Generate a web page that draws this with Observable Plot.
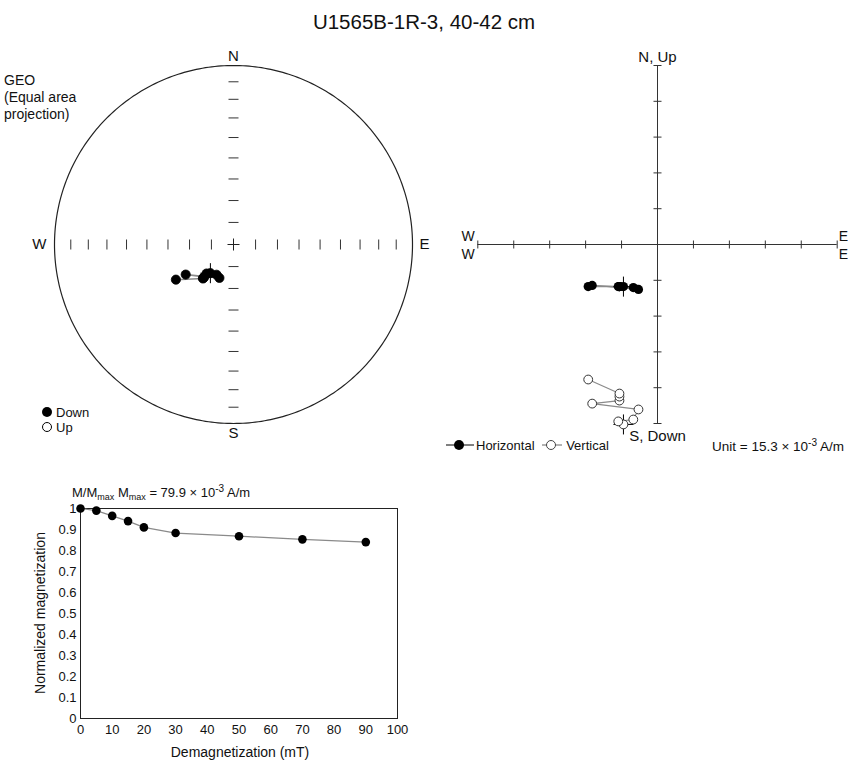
<!DOCTYPE html>
<html>
<head>
<meta charset="utf-8">
<script src="https://cdn.jsdelivr.net/npm/d3@7"></script>
<script src="https://cdn.jsdelivr.net/npm/@observablehq/plot@0.6"></script>
<style>
  body { margin: 0; background: #fff; font-family: "Liberation Sans", Arial, Helvetica, sans-serif; color: #111; }
  #chart { position: relative; width: 848px; height: 762px; overflow: hidden; }
  #chart svg.panel { position: absolute; overflow: visible; }
  #chart svg.decay-panel g[aria-label$="tick label"] { font-size: 13px; }
  .t { position: absolute; white-space: nowrap; line-height: 1; }
  .sub { font-size: 9px; position: relative; top: 3px; }
  .sup { font-size: 10px; position: relative; top: -5px; }
</style>
</head>
<body>
<div id="chart">
  <div class="t" style="left:0;width:848px;text-align:center;top:12px;font-size:20.5px;">U1565B-1R-3, 40-42 cm</div>
  <div class="t" style="left:4px;top:72px;font-size:14px;line-height:17px;">GEO<br>(Equal area<br>projection)</div>
  <div class="t" style="left:41px;top:405px;font-size:13px;line-height:15px;">
    <svg width="12" height="12" style="vertical-align:-1px;margin-right:3px"><circle cx="6" cy="6" r="5" fill="#000"/></svg>Down<br>
    <svg width="12" height="12" style="vertical-align:-1px;margin-right:3px"><circle cx="6" cy="6" r="4.5" fill="#fff" stroke="#000"/></svg>Up
  </div>
  <div class="t" style="left:446px;top:439px;font-size:13px;">
    <svg width="30" height="12" style="vertical-align:-1px"><line x1="0" y1="6" x2="28" y2="6" stroke="#000"/><circle cx="13" cy="6" r="5" fill="#000"/></svg>Horizontal
    <svg width="24" height="12" style="vertical-align:-1px;margin-left:4px"><line x1="0" y1="6" x2="20" y2="6" stroke="#666"/><circle cx="9" cy="6" r="4.5" fill="#fff" stroke="#444"/></svg>Vertical
  </div>
  <div class="t" style="left:712px;top:440px;font-size:13.5px;">Unit = 15.3 × 10<span class="sup">-3</span> A/m</div>
  <div class="t" style="left:72px;top:486px;font-size:13px;">M/M<span class="sub">max</span> M<span class="sub">max</span> = 79.9 × 10<span class="sup">-3</span> A/m</div>
  <div class="t" style="left:90px;width:300px;text-align:center;top:745px;font-size:14px;">Demagnetization (mT)</div>
  <div class="t" style="left:-45px;width:170px;text-align:center;top:606px;font-size:14px;transform:rotate(-90deg);">Normalized magnetization</div>
</div>
<script>
// Demagnetization steps (mT) and remanence components (10^-3 A/m), geographic coordinates
const stepsMT    = [0, 5, 10, 15, 20, 30, 50, 70, 90];
const east       = [-14.5, -16.7, -10.3, -8.1, -27.8, -16.2, -16.2, -16.2, -29.5];
const north      = [-18.0, -18.0, -18.4, -19.2, -17.5, -18.0, -18.0, -18.0, -18.0];
const down       = [76.9, 75.6, 74.8, 70.5, 68.0, 66.7, 65.0, 63.7, 57.7];
// Intensity normalised by M_max
const normalized = [1.0, 0.99, 0.965, 0.94, 0.91, 0.883, 0.868, 0.853, 0.84];
const unitValue = 15.3;           // 10^-3 A/m per Zijderveld tick
const zijTickCount = 5;
const inclinationTicks = [10, 20, 30, 40, 50, 60, 70, 80];
const demagTicks = [0, 10, 20, 30, 40, 50, 60, 70, 80, 90, 100];
const normTicks = [0, 0.1, 0.2, 0.3, 0.4, 0.5, 0.6, 0.7, 0.8, 0.9, 1];

const chart = document.getElementById("chart");
const font = {fontFamily: "'Liberation Sans', Arial, Helvetica, sans-serif", fontSize: "13px", color: "#111", background: "transparent"};
const rad = Math.PI / 180;

function place(svg, left, top, cls) {
  svg.classList.add("panel");
  if (cls) svg.classList.add(cls);
  svg.style.left = left + "px";
  svg.style.top = top + "px";
  chart.appendChild(svg);
}

// ---------- Equal-area stereonet (lower hemisphere) ----------
const eqArea = inc => Math.SQRT2 * Math.sin((90 - Math.abs(inc)) / 2 * rad);
const vectors = stepsMT.map((s, i) => ({step: s, e: east[i], n: north[i], d: down[i]}));
const dirs = vectors.map(v => {
  const h = Math.hypot(v.e, v.n);
  const inc = Math.atan2(v.d, h) / rad;
  const r = eqArea(inc);
  return {step: v.step, x: r * v.e / h, y: r * v.n / h, lower: inc >= 0};
});
const rim = d3.range(0, 361, 1).map(a => ({x: Math.sin(a * rad), y: Math.cos(a * rad)}));
const stereoPx = 179;                 // pixels per unit radius
const th = 5 / stereoPx;              // half-length of axis ticks
const tickR = inclinationTicks.map(eqArea);
const tickPos = tickR.flatMap(r => [-r, r]);
const cross = 6 / stereoPx;

const stereo = Plot.plot({
  width: 470, height: 450,
  x: {domain: [-1, 1], range: [54, 412]},
  y: {domain: [-1, 1], range: [423, 65]},
  axis: null,
  style: font,
  marks: [
    Plot.line(rim, {x: "x", y: "y", stroke: "#222", strokeWidth: 1.2}),
    Plot.link(tickPos, {x1: d => d, x2: d => d, y1: -th, y2: th, stroke: "#333", strokeWidth: 1}),
    Plot.link(tickPos, {y1: d => d, y2: d => d, x1: -th, x2: th, stroke: "#333", strokeWidth: 1}),
    Plot.link([0], {x1: -cross, x2: cross, y1: 0, y2: 0, stroke: "#222"}),
    Plot.link([0], {x1: 0, x2: 0, y1: -cross, y2: cross, stroke: "#222"}),
    Plot.line(dirs, {x: "x", y: "y", stroke: "#8a8a8a", strokeWidth: 1.5}),
    Plot.dot(dirs, {x: "x", y: "y", r: 4.6, fill: d => d.lower ? "#000" : "#fff", stroke: "#000", strokeWidth: 0.8}),
    Plot.dot(dirs.slice(0, 1), {x: "x", y: "y", symbol: "plus", r: 6.5, stroke: "#000", strokeWidth: 1}),
    Plot.text(["N"], {x: 0, y: 1, dy: -9, fontSize: 15, fill: "#111"}),
    Plot.text(["S"], {x: 0, y: -1, dy: 10, fontSize: 15, fill: "#111"}),
    Plot.text(["W"], {x: -1, y: 0, dx: -8, textAnchor: "end", fontSize: 15, fill: "#111"}),
    Plot.text(["E"], {x: 1, y: 0, dx: 7, textAnchor: "start", fontSize: 15, fill: "#111"})
  ]
});
place(stereo, 0, 0);

// ---------- Zijderveld diagram ----------
const lim = zijTickCount * unitValue;
const zTicks = d3.range(-zijTickCount, zijTickCount + 1).filter(k => k !== 0).map(k => k * unitValue);
const zPx = 35.9 / unitValue;          // pixels per 10^-3 A/m
const zt = 4 / zPx;
const zij = Plot.plot({
  width: 428, height: 420,
  x: {domain: [-lim, lim], range: [57.3, 416.7]},
  y: {domain: [-lim, lim], range: [383, 25]},
  axis: null,
  style: font,
  marks: [
    Plot.ruleY([0], {x1: -lim, x2: lim, stroke: "#333", strokeWidth: 1}),
    Plot.ruleX([0], {y1: -lim, y2: lim, stroke: "#333", strokeWidth: 1}),
    Plot.link(zTicks, {x1: d => d, x2: d => d, y1: -zt, y2: zt, stroke: "#333"}),
    Plot.link(zTicks, {y1: d => d, y2: d => d, x1: -zt, x2: zt, stroke: "#333"}),
    // horizontal projection (E, N)
    Plot.line(vectors, {x: "e", y: "n", stroke: "#8a8a8a", strokeWidth: 1.2}),
    Plot.dot(vectors, {x: "e", y: "n", r: 4.6, fill: "#000"}),
    Plot.dot(vectors.slice(0, 1), {x: "e", y: "n", symbol: "plus", r: 6.5, stroke: "#000", strokeWidth: 1}),
    // vertical projection (E, Down)
    Plot.dot(vectors.slice(0, 1), {x: "e", y: d => -d.d, symbol: "plus", r: 6.5, stroke: "#000", strokeWidth: 1}),
    Plot.line(vectors, {x: "e", y: d => -d.d, stroke: "#8a8a8a", strokeWidth: 1.2}),
    Plot.dot(vectors, {x: "e", y: d => -d.d, r: 4.4, fill: "#fff", stroke: "#333", strokeWidth: 1}),
    Plot.text(["W"], {x: -lim, y: 0, dx: -3, dy: -8, textAnchor: "end", fontSize: 14, fill: "#111"}),
    Plot.text(["W"], {x: -lim, y: 0, dx: -3, dy: 10, textAnchor: "end", fontSize: 14, fill: "#111"}),
    Plot.text(["E"], {x: lim, y: 0, dx: 1.5, dy: -8, textAnchor: "start", fontSize: 14, fill: "#111"}),
    Plot.text(["E"], {x: lim, y: 0, dx: 1.5, dy: 10, textAnchor: "start", fontSize: 14, fill: "#111"}),
    Plot.text(["N, Up"], {x: 0, y: lim, dy: -8, fontSize: 15, fill: "#111"}),
    Plot.text(["S, Down"], {x: 0, y: -lim, dy: 13, fontSize: 15, fill: "#111"})
  ]
});
place(zij, 420, 40);

// ---------- Normalised intensity decay ----------
const decay = stepsMT.map((s, i) => ({step: s, m: normalized[i]}));
const demag = Plot.plot({
  width: 420, height: 292,
  marginLeft: 80, marginRight: 23, marginTop: 38, marginBottom: 44,
  x: {domain: [0, 100]},
  y: {domain: [0, 1]},
  style: font,
  marks: [
    Plot.frame({stroke: "#222", strokeWidth: 1}),
    Plot.axisX({ticks: demagTicks, tickSize: 0, tickPadding: 6, tickFormat: d => d, label: null, fontSize: 13}),
    Plot.axisY({ticks: normTicks, tickSize: 0, tickPadding: 4, tickFormat: d => String(+d.toFixed(1)), label: null, fontSize: 13}),
    Plot.line(decay, {x: "step", y: "m", stroke: "#8a8a8a", strokeWidth: 1.2}),
    Plot.dot(decay, {x: "step", y: "m", r: 4.3, fill: "#000"})
  ]
});
place(demag, 0, 470, "decay-panel");
</script>
</body>
</html>
